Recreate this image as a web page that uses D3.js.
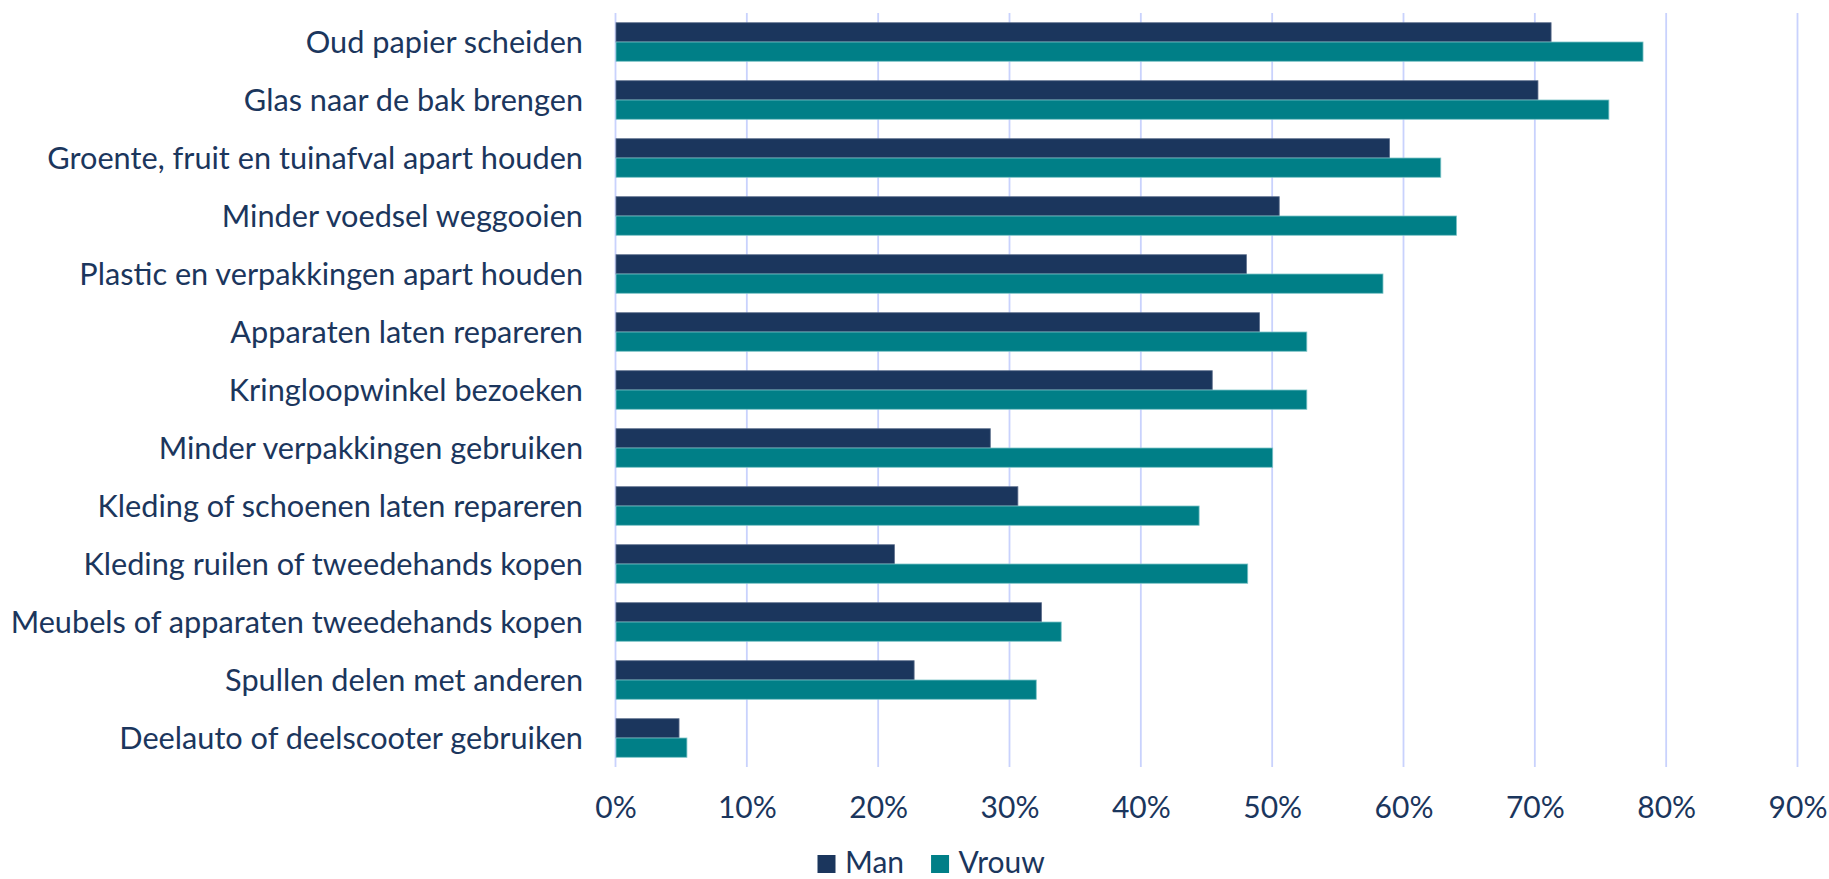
<!DOCTYPE html>
<html>
<head>
<meta charset="utf-8">
<script src="https://cdn.jsdelivr.net/npm/d3@7"></script>
<style>
  body { margin: 0; background: #ffffff; }
  svg { display: block; }
  text { font-family: Lato, "Open Sans", sans-serif; }
</style>
</head>
<body>
<svg id="chart" width="1829" height="879"></svg>
<script>
// Share of respondents (%) per circular activity, split by gender
const categories = [
  "Oud papier scheiden",
  "Glas naar de bak brengen",
  "Groente, fruit en tuinafval apart houden",
  "Minder voedsel weggooien",
  "Plastic en verpakkingen apart houden",
  "Apparaten laten repareren",
  "Kringloopwinkel bezoeken",
  "Minder verpakkingen gebruiken",
  "Kleding of schoenen laten repareren",
  "Kleding ruilen of tweedehands kopen",
  "Meubels of apparaten tweedehands kopen",
  "Spullen delen met anderen",
  "Deelauto of deelscooter gebruiken"
];
const manValues   = [71.2, 70.2, 58.9, 50.5, 48.0, 49.0, 45.4, 28.5, 30.6, 21.2, 32.4, 22.7, 4.8];
const vrouwValues = [78.2, 75.6, 62.8, 64.0, 58.4, 52.6, 52.6, 50.0, 44.4, 48.1, 33.9, 32.0, 5.4];
const seriesNames = ["Man", "Vrouw"];
const tickValues  = [0, 10, 20, 30, 40, 50, 60, 70, 80, 90];

const colors = { Man: "#1B365D", Vrouw: "#007F87" };
const edges  = { Man: "#5C6E8C", Vrouw: "#7CC3C7" };
const textColor = "#1B365D";
const gridColor = "#C9D2FD";
const labelSize = 30.7;
const tickSize = 30;

const svg = d3.select("#chart");

const x = d3.scaleLinear().domain([0, 90]).range([615.5, 1797.5]);
const y = d3.scaleBand()
  .domain(categories)
  .range([13, 767])
  .paddingInner(0.335)
  .paddingOuter(0.1675);
const sub = d3.scaleBand().domain(seriesNames).range([0, y.bandwidth()]);

// vertical gridlines
svg.append("g")
  .selectAll("line")
  .data(tickValues)
  .join("line")
  .attr("x1", d => x(d)).attr("x2", d => x(d))
  .attr("y1", 13).attr("y2", 767)
  .attr("stroke", gridColor)
  .attr("stroke-width", 1.8);

// bars
const rows = categories.map((c, i) => ({ cat: c, Man: manValues[i], Vrouw: vrouwValues[i] }));
const groups = svg.append("g")
  .selectAll("g")
  .data(rows)
  .join("g")
  .attr("transform", d => `translate(0,${y(d.cat)})`);

groups.selectAll("rect")
  .data(d => seriesNames.map(s => ({ s, v: d[s] })))
  .join("rect")
  .attr("x", x(0) + 0.5)
  .attr("y", d => sub(d.s))
  .attr("width", d => x(d.v) - x(0))
  .attr("height", sub.bandwidth())
  .attr("fill", d => colors[d.s])
  .attr("stroke", d => edges[d.s])
  .attr("stroke-width", 0.8);

// category labels
svg.append("g")
  .selectAll("text")
  .data(categories)
  .join("text")
  .attr("x", 583)
  .attr("y", d => y(d) + y.bandwidth() / 2)
  .attr("dy", "0.36em")
  .attr("text-anchor", "end")
  .attr("font-size", labelSize)
  .attr("fill", textColor)
  .text(d => d);

// x axis tick labels
const xAxis = d3.axisBottom(x)
  .tickValues(tickValues)
  .tickFormat(d => d + "%")
  .tickSize(0)
  .tickPadding(29.5);

const axisG = svg.append("g")
  .attr("transform", "translate(0,767)")
  .call(xAxis);
axisG.select(".domain").remove();
axisG.selectAll("text")
  .attr("font-size", tickSize)
  .attr("font-family", "Lato, 'Open Sans', sans-serif")
  .attr("fill", textColor);

// legend
const legend = svg.append("g");
let lx = 817.5;
seriesNames.forEach(s => {
  legend.append("rect")
    .attr("x", lx).attr("y", 855)
    .attr("width", 18).attr("height", 18)
    .attr("fill", colors[s]);
  const t = legend.append("text")
    .attr("x", lx + 27.5)
    .attr("y", 873)
    .attr("font-size", tickSize)
    .attr("fill", textColor)
    .text(s);
  lx += 27.5 + t.node().getComputedTextLength() + 27;
});
</script>
</body>
</html>
